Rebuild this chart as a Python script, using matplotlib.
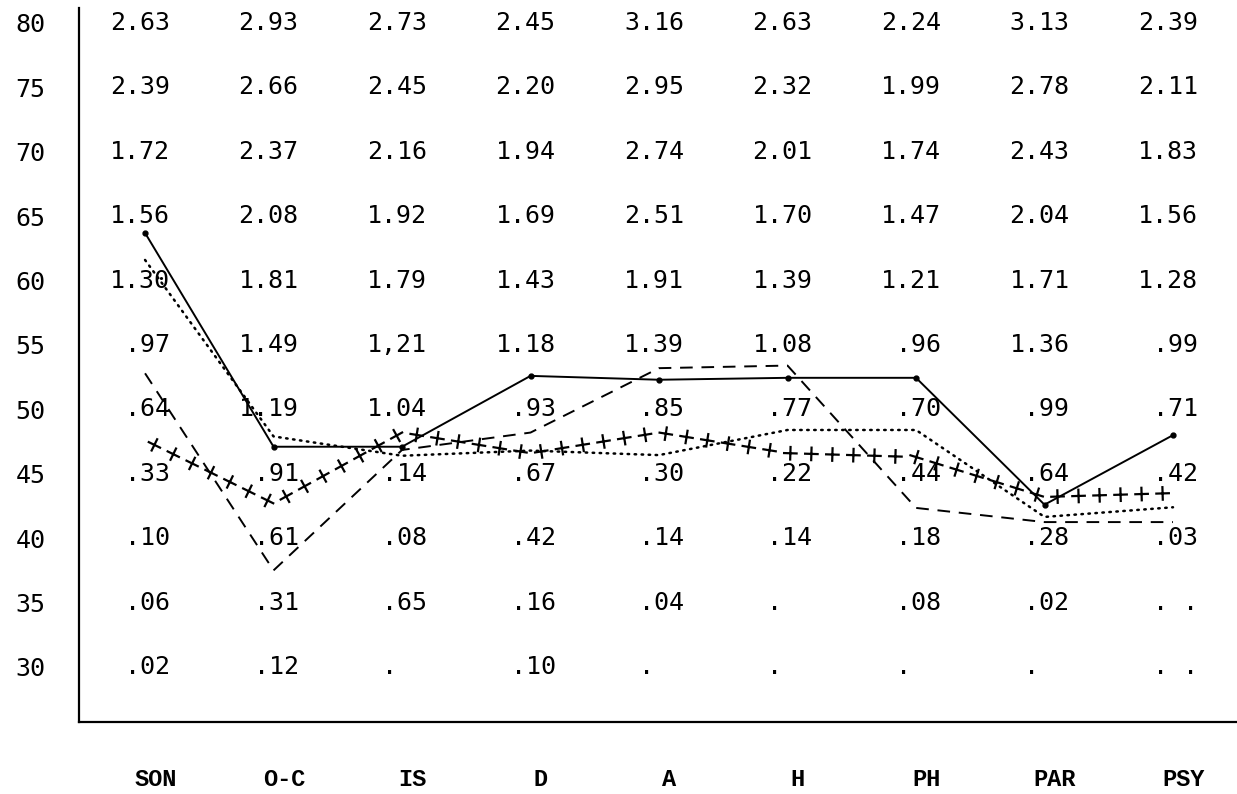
import matplotlib
matplotlib.use("Agg")
import matplotlib.pyplot as plt
import matplotlib.patheffects as pe
import numpy as np

# Categories along the bottom and the score levels down the left side
categories = ["SON", "O-C", "IS", "D", "A", "H", "PH", "PAR", "PSY"]
levels = [80, 75, 70, 65, 60, 55, 50, 45, 40, 35, 30]

# Typed table values, one row per level (top to bottom)
row_80 = ["2.63", "2.93", "2.73", "2.45", "3.16", "2.63", "2.24", "3.13", "2.39"]
row_75 = ["2.39", "2.66", "2.45", "2.20", "2.95", "2.32", "1.99", "2.78", "2.11"]
row_70 = ["1.72", "2.37", "2.16", "1.94", "2.74", "2.01", "1.74", "2.43", "1.83"]
row_65 = ["1.56", "2.08", "1.92", "1.69", "2.51", "1.70", "1.47", "2.04", "1.56"]
row_60 = ["1.30", "1.81", "1.79", "1.43", "1.91", "1.39", "1.21", "1.71", "1.28"]
row_55 = [".97", "1.49", "1,21", "1.18", "1.39", "1.08", ".96", "1.36", ".99"]
row_50 = [".64", "1.19", "1.04", ".93", ".85", ".77", ".70", ".99", ".71"]
row_45 = [".33", ".91", ".14", ".67", ".30", ".22", ".44", ".64", ".42"]
row_40 = [".10", ".61", ".08", ".42", ".14", ".14", ".18", ".28", ".03"]
row_35 = [".06", ".31", ".65", ".16", ".04", ".", ".08", ".02", ". ."]
row_30 = [".02", ".12", ".", ".10", ".", ".", ".", ".", ". ."]
table_rows = [row_80, row_75, row_70, row_65, row_60, row_55,
              row_50, row_45, row_40, row_35, row_30]

# Profile lines (score level at each category)
solid_line = [63.7, 47.1, 47.1, 52.6, 52.3, 52.45, 52.45, 42.6, 48.0]
dotted_line = [61.6, 47.9, 46.4, 46.8, 46.45, 48.4, 48.4, 41.65, 42.4]
dashed_line = [52.8, 37.5, 46.85, 48.2, 53.2, 53.4, 42.35, 41.25, 41.25]
plus_line = [47.6, 42.7, 48.2, 46.6, 48.2, 46.6, 46.3, 43.2, 43.5]

x = np.arange(len(categories))

fig = plt.figure(figsize=(12.37, 7.94), dpi=100)
ax = fig.add_axes([79 / 1237, 72 / 794, 1158 / 1237, 714 / 794])
ax.set_xlim(-0.514, 8.498)
ax.set_ylim(25.73, 81.16)

for s in ["top", "right"]:
    ax.spines[s].set_visible(False)
for s in ["left", "bottom"]:
    ax.spines[s].set_linewidth(1.6)

mono = "DejaVu Sans Mono"
fs = 18
cw = 0.602 * fs  # character width in points

# table values, lined up on the decimal point like a typewriter
for lev, row in zip(levels, table_rows):
    for xi, s in zip(x, row):
        idx = min([s.index(c) for c in ".," if c in s])
        ax.annotate(s, (xi, lev), xytext=(-9 - (idx + 0.5) * cw, 0),
                    textcoords="offset points", ha="left", va="center",
                    fontsize=fs, family=mono, color="black")

# the four profile lines
ax.plot(x, solid_line, color="black", lw=1.4, marker="o", ms=3.5)
ax.plot(x, dotted_line, color="black", lw=1.8, linestyle=(0, (0.6, 2.2)),
        dash_capstyle="round")
ax.plot(x, dashed_line, color="black", lw=1.4, linestyle=(0, (6.5, 4.5)))
plus_fx = [pe.TickedStroke(spacing=15, angle=a, length=0.3, linewidth=1.6)
           for a in (0, 90, 180, -90)]
ax.plot(x, plus_line, color="black", lw=1.5, path_effects=plus_fx)

ax.set_yticks(levels)
ax.set_yticklabels([str(v) for v in levels], family=mono, fontsize=fs)
ax.set_xticks(x + 0.08)
ax.set_xticklabels(categories, family="Liberation Mono", fontsize=17,
                   fontweight="bold")
ax.tick_params(axis="y", length=0, pad=24)
ax.tick_params(axis="x", length=0, pad=33)

fig.savefig("out.png", dpi=100)
